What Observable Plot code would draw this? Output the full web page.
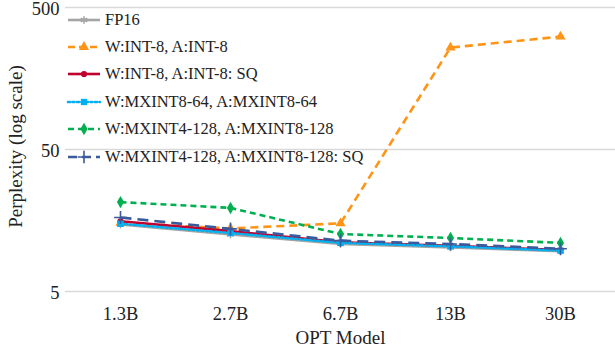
<!DOCTYPE html>
<html>
<head>
<meta charset="utf-8">
<script src="https://cdn.jsdelivr.net/npm/d3@7"></script>
<script src="https://cdn.jsdelivr.net/npm/@observablehq/plot@0.6"></script>
<style>
  html, body { margin: 0; padding: 0; background: #fff; }
  #wrap { position: relative; width: 615px; height: 349px; font-family: 'Liberation Serif', serif; }
  #legend { position: absolute; left: 66px; top: 6px; font-size: 16.5px; color: #222; font-family: 'Liberation Serif', serif; }
  .row { height: 27.4px; display: flex; align-items: center; white-space: nowrap; }
  .row svg { margin-right: 4px; }
</style>
</head>
<body>
<div id="wrap"></div>
<script>
const FONT = "'Liberation Serif', serif";
const models = ["1.3B", "2.7B", "6.7B", "13B", "30B"];
const seriesNames = [
  "FP16",
  "W:INT-8, A:INT-8",
  "W:INT-8, A:INT-8: SQ",
  "W:MXINT8-64, A:MXINT8-64",
  "W:MXINT4-128, A:MXINT8-128",
  "W:MXINT4-128, A:MXINT8-128: SQ"
];
const fp16     = [14.8, 12.6, 10.8, 10.2, 9.6];
const int8     = [15.2, 13.9, 15.1, 261, 312];
const int8sq   = [15.6, 13.3, 11.1, 10.5, 9.8];
const mxint8   = [15.0, 12.9, 11.0, 10.4, 9.7];
const mxint4   = [21.3, 19.4, 12.7, 11.9, 11.0];
const mxint4sq = [16.6, 13.8, 11.4, 10.8, 10.0];
const yTicks = [5, 50, 500];

const values = [fp16, int8, int8sq, mxint8, mxint4, mxint4sq];
const colors = ["#a5a5a5", "#ff9416", "#c0002e", "#00b0f0", "#00b050", "#3a5a9c"];
const dashes = [null, "8,5", null, "2,2.5", "6,4", "11,6"];
const symbols = ["asterisk", "triangle", "circle", "square", "diamond", "plus"];
const symSizes = [40, 45, 30, 40, 45, 55];

const marks = [
  Plot.gridY(yTicks, {stroke: "#d9d9d9", strokeOpacity: 1, strokeWidth: 1.3})
];
values.forEach((arr, i) => {
  const data = models.map((m, j) => ({model: m, value: arr[j]}));
  marks.push(Plot.line(data, {x: "model", y: "value", stroke: colors[i], strokeWidth: 2.6,
    strokeDasharray: dashes[i], strokeLinecap: i === 3 ? "round" : "butt"}));
  const filled = !(symbols[i] === "asterisk" || symbols[i] === "plus");
  marks.push(Plot.dot(data, {x: "model", y: "value", symbol: () => symbols[i], r: Math.sqrt(symSizes[i]/Math.PI),
    fill: filled ? colors[i] : "none", stroke: filled ? "none" : colors[i], strokeWidth: 1.6}));
});

const chart = Plot.plot({
  width: 615,
  height: 349,
  marginLeft: 65,
  marginRight: 0,
  marginTop: 7,
  marginBottom: 58,
  style: {fontFamily: FONT, fontSize: "18px", color: "#222", background: "#fff"},
  symbol: {type: "identity"},
  x: {type: "point", domain: models, padding: 0.5, label: null},
  y: {type: "log", domain: [5, 500], label: null, axis: null},
  marks: [
    ...marks,
    Plot.axisX({tickSize: 0, tickPadding: 15, fontSize: 18.5, label: null, fontFamily: FONT, fill: "#222"}),
    Plot.text(yTicks, {y: d => d, text: d => String(d), frameAnchor: "left", textAnchor: "end", dx: -6, dy: 2, fontSize: 18.5, fill: "#222", fontFamily: FONT}),
    Plot.text(["OPT Model"], {frameAnchor: "bottom", lineAnchor: "middle", textAnchor: "middle", dy: 46, fontSize: 19, fill: "#222", fontFamily: FONT}),
    Plot.text(["Perplexity (log scale)"], {frameAnchor: "left", textAnchor: "middle", lineAnchor: "middle", dx: -50, dy: -3, rotate: -90, fontSize: 19, fill: "#222", fontFamily: FONT})
  ]
});

const wrap = document.getElementById("wrap");
wrap.appendChild(chart);

// legend overlay
const legend = document.createElement("div");
legend.id = "legend";
const symMap = {asterisk: d3.symbolAsterisk, triangle: d3.symbolTriangle, circle: d3.symbolCircle,
                square: d3.symbolSquare, diamond: d3.symbolDiamond, plus: d3.symbolPlus};
seriesNames.forEach((name, i) => {
  const row = document.createElement("div");
  row.className = "row";
  const svg = d3.create("svg").attr("width", 35).attr("height", 14);
  svg.append("line").attr("x1", 2).attr("x2", 34).attr("y1", 7).attr("y2", 7)
    .attr("stroke", colors[i]).attr("stroke-width", 2.6)
    .attr("stroke-dasharray", dashes[i] ? (i === 1 ? "7,4" : i === 5 ? "9,5" : dashes[i]) : null)
    .attr("stroke-linecap", i === 3 ? "round" : "butt");
  const filled = !(symbols[i] === "asterisk" || symbols[i] === "plus");
  svg.append("path").attr("transform", "translate(18,7)")
    .attr("d", d3.symbol(symMap[symbols[i]], symSizes[i])())
    .attr("fill", filled ? colors[i] : "none")
    .attr("stroke", filled ? "none" : colors[i]).attr("stroke-width", 1.6);
  row.appendChild(svg.node());
  const span = document.createElement("span");
  span.textContent = name;
  row.appendChild(span);
  legend.appendChild(row);
});
wrap.appendChild(legend);
</script>
</body>
</html>
